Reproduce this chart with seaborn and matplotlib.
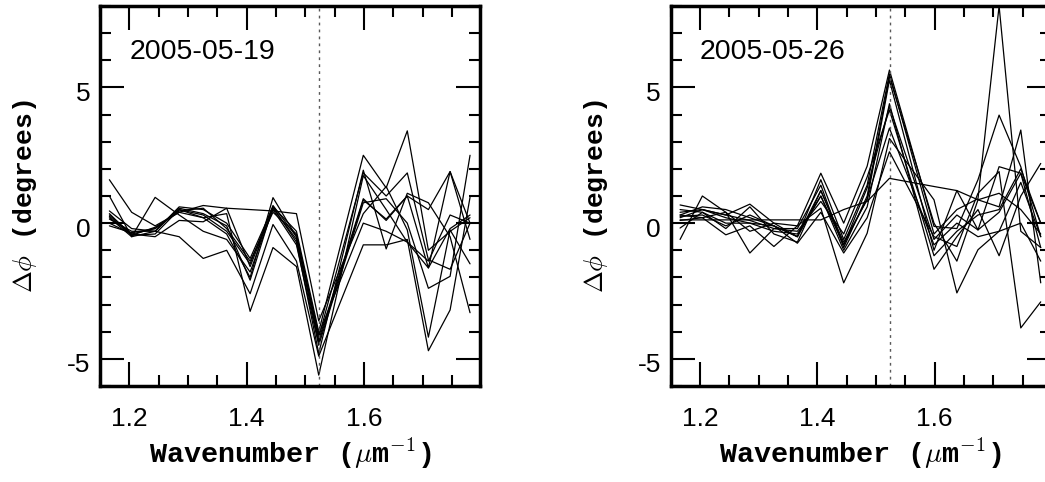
import pandas as pd
import matplotlib
matplotlib.use("Agg")
import matplotlib.pyplot as plt
import matplotlib.transforms as mtransforms
import seaborn as sns

# wavenumber of each channel (um^-1)
wavenumber = [1.166, 1.204, 1.244, 1.285, 1.326, 1.366, 1.406, 1.445,
              1.485, 1.523, 1.599, 1.638, 1.674, 1.710, 1.747, 1.781]
halpha = 1.5237

# 2005-05-19, phase differences (degrees)
d19_1 = [0.45, -0.2, -0.3, 0.6, 0.5, 0.0, -1.3, 0.6, -0.3, -4.0, 2.5, 1.3, 3.4, -1.0, -0.3, 0.2]
d19_2 = [0.3, -0.4, -0.2, 0.5, 0.3, -0.3, -1.5, 0.65, -0.5, -4.2, 1.85, 1.0, 1.85, -1.35, -1.7, 0.0]
d19_3 = [1.6, 0.4, -0.1, 0.4, 0.65, 0.55, -1.6, 0.55, -0.6, -4.4, 0.85, 0.15, 1.0, -1.65, 1.9, 0.0]
d19_4 = [0.2, -0.5, 0.95, 0.3, -0.3, -0.6, -1.8, 0.5, -0.8, -4.5, 0.75, 0.9, 0.0, -2.4, -1.96, 2.5]
d19_5 = [0.0, -0.4, -0.5, 0.1, 0.05, 0.55, 0.5, 0.45, 0.35, -3.6, 0.35, 1.35, -0.25, -4.2, -0.25, -1.5]
d19_6 = [0.15, -0.3, -0.3, 0.55, 0.35, -0.1, -2.1, 0.6, -0.7, -4.8, 1.95, -0.95, 1.1, 0.75, -0.5, -3.3]
d19_7 = [1.0, -0.5, -0.3, -0.5, -1.3, -1.0, -2.6, -0.05, -1.4, -4.9, -0.8, -0.8, -0.6, -4.7, -3.2, 0.95]
d19_8 = [0.25, -0.45, -0.15, 0.4, 0.2, 0.35, -3.25, -0.9, -1.6, -5.6, 1.75, 0.5, -0.7, -1.4, 0.3, 0.0]
d19_9 = [-0.1, -0.35, -0.2, 0.45, 0.55, -0.2, -1.4, 0.4, -0.4, -4.3, 0.9, 0.1, 1.0, 0.5, 1.9, -0.6]
d19_10 = [0.35, -0.45, -0.4, 0.5, 0.2, -0.4, -2.0, 0.94, -0.5, -4.1, 0.0, -0.3, -0.7, -1.65, -0.2, 0.3]

# 2005-05-26
d26_1 = [0.67, 0.5, 0.3, 0.7, 0.0, -0.1, 1.84, 0.0, 2.1, 5.64, -0.12, -0.2, 1.6, 3.98, 2.08, -0.5]
d26_2 = [0.3, 0.6, 0.5, 0.2, -0.1, -0.5, 1.6, -0.6, 1.4, 5.5, -0.4, 0.5, 0.9, 8.0, -0.3, -0.9]
d26_3 = [-0.6, 1.0, 0.4, -1.1, -0.2, -0.2, 1.4, -0.9, 1.0, 5.4, 0.0, -1.4, 0.86, 0.6, 3.43, -2.2]
d26_4 = [0.5, 0.4, -0.2, 0.6, -0.4, -0.7, 1.2, -0.7, 0.86, 5.27, -1.0, 1.2, -0.25, 2.08, 1.84, 0.0]
d26_5 = [0.2, 0.5, 0.2, 0.0, -0.3, -0.4, 1.0, -1.0, 0.6, 4.4, -1.7, -0.5, 0.5, -1.2, 1.0, 2.2]
d26_6 = [0.1, 0.2, -0.43, -0.1, -0.86, -0.1, 0.55, -2.2, -0.37, 3.12, 0.86, -2.57, -0.98, -0.3, 1.5, -0.5]
d26_7 = [0.25, 0.3, -0.1, 0.3, -0.1, -0.74, 0.4, -1.1, 0.2, 2.63, -0.5, -0.86, 1.1, 1.9, -3.86, -2.9]
d26_8 = [0.12, 0.12, 0.12, 0.12, 0.12, 0.12, 0.12, 0.5, 0.8, 1.65, 1.35, 1.2, 0.86, 1.1, 0.5, -0.4]
d26_9 = [-0.18, 0.4, 0.0, 0.0, -0.1, -0.5, 1.0, -0.8, 1.3, 4.3, -0.6, 0.3, -0.25, 0.4, 1.84, -0.9]
d26_10 = [0.4, 0.5, 0.3, 0.1, -0.2, -0.3, 0.8, -0.4, 1.7, 4.17, -1.2, -0.3, 0.3, 0.5, 2.0, 0.0]
d26_11 = [0.3, 0.2, 0.4, -0.3, 0.0, -0.5, 1.2, -0.8, 0.9, 3.5, -0.8, 0.0, -0.5, -0.3, 0.0, -1.4]

days = {
    "2005-05-19": [d19_1, d19_2, d19_3, d19_4, d19_5, d19_6, d19_7, d19_8, d19_9, d19_10],
    "2005-05-26": [d26_1, d26_2, d26_3, d26_4, d26_5, d26_6, d26_7, d26_8, d26_9, d26_10, d26_11],
}

sns.set_style("ticks")
plt.rcParams["font.family"] = ["Liberation Sans", "DejaVu Sans"]
plt.rcParams["axes.unicode_minus"] = False
plt.rcParams["mathtext.fontset"] = "cm"
plt.rcParams["text.color"] = "black"
plt.rcParams["axes.labelcolor"] = "black"

fig = plt.figure(figsize=(10.45, 4.82), dpi=100)
lefts = [100 / 1045, 670.7 / 1045]
shift = mtransforms.ScaledTranslation(0, -4 / 100, fig.dpi_scale_trans)

for left, (day, series) in zip(lefts, days.items()):
    ax = fig.add_axes([left, 96 / 482, 380 / 1045, 380 / 482])
    rows = []
    for i, s in enumerate(series):
        for x, y in zip(wavenumber, s):
            rows.append({"wn": x, "dphi": y, "obs": i})
    df = pd.DataFrame(rows)
    sns.lineplot(data=df, x="wn", y="dphi", units="obs", estimator=None,
                 color="black", linewidth=0.9, ax=ax, legend=False)
    ax.axvline(halpha, color="0.35", linestyle=(0, (2, 3)), linewidth=1)

    ax.set_xlim(1.15, 1.798)
    ax.set_ylim(-6, 8)
    ax.set_xticks([1.2, 1.4, 1.6])
    ax.set_xticks([1.15 + 0.05 * k for k in range(13)], minor=True)
    ax.set_yticks([-5, 0, 5])
    ax.set_yticks(range(-6, 9), minor=True)
    ax.tick_params(which="both", direction="in", top=True, right=True,
                   width=1.5, labelsize=19, color="black", labelcolor="black")
    ax.tick_params(which="major", length=17)
    ax.tick_params(which="minor", length=8)
    ax.tick_params(axis="x", which="major", pad=15)
    ax.tick_params(axis="y", which="major", pad=7)
    for lab in ax.get_yticklabels():
        lab.set_transform(lab.get_transform() + shift)
    for sp in ax.spines.values():
        sp.set_linewidth(2.5)
        sp.set_color("black")

    ax.text(1.2, 6.3, day, fontsize=20.5, va="center", ha="left", color="black")
    ax.set_xlabel(r"Wavenumber ($\mu$m$^{-1}$)", fontsize=20.5,
                  family="Liberation Mono", weight="bold", labelpad=4)
    ax.set_ylabel(r"$\Delta\phi$ (degrees)", fontsize=19,
                  family="Liberation Mono", weight="bold", labelpad=20)

fig.savefig("out.png", dpi=100)
